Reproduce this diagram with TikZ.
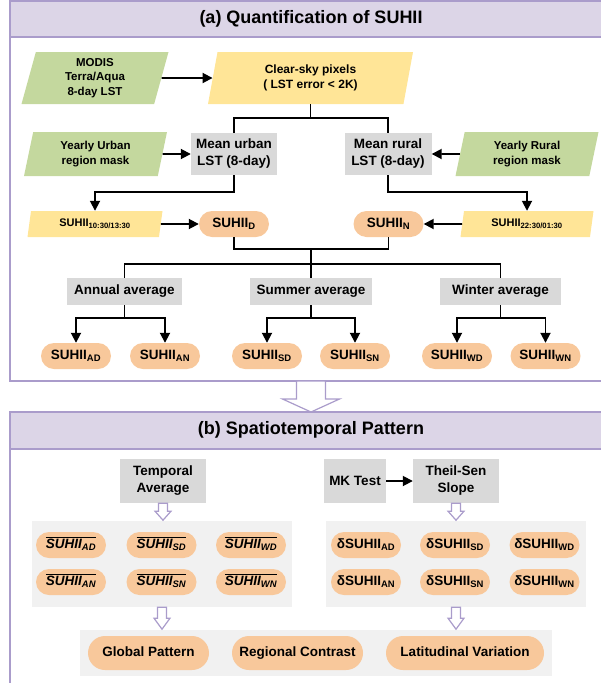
\documentclass[tikz,border=0pt]{standalone}
\usepackage{fontspec}
\setmainfont{Liberation Sans}
\usepackage{amsmath}
\usetikzlibrary{shapes.geometric,arrows.meta,calc}

\definecolor{hdrfill}{HTML}{DCD5E7}
\definecolor{hdrline}{HTML}{AA9CCB}
\definecolor{maskgreen}{HTML}{C4D89E}
\definecolor{lstyellow}{HTML}{FFE597}
\definecolor{suhiiorange}{HTML}{F8C89B}
\definecolor{stepgray}{HTML}{D9D9D9}
\definecolor{groupgray}{HTML}{F1F1F1}

\tikzset{
  base/.style={inner sep=0pt, align=center, font=\bfseries\fontsize{13.5}{17}\selectfont},
  stepbox/.style={base, rectangle, fill=stepgray},
  para/.style={base, trapezium, trapezium left angle=70, trapezium right angle=110,
    trapezium stretches body, font=\bfseries\fontsize{11.5}{14.5}\selectfont},
  inputbox/.style={para, fill=maskgreen},
  lstbox/.style={para, fill=lstyellow},
  pill/.style={base, rectangle, rounded corners=13pt, fill=suhiiorange,
    minimum width=70pt, minimum height=26pt, text height=10pt, text depth=3pt},
  bigpill/.style={pill, rounded corners=17pt, minimum height=34pt},
  groupbox/.style={rectangle, fill=groupgray, inner sep=0pt},
  panel/.style={draw=hdrline, line width=1.2pt},
  hollow/.style={draw=hdrline, fill=white, line width=1.2pt, line join=miter},
  line/.style={line width=1.8pt},
  arr/.style={line, -{Triangle[length=10pt,width=10pt]}},
}

% hollow down arrow: start, length, half shaft, half head, head length
\newcommand{\hollowdown}[5]{%
  \draw[hollow] #1 ++(-#3,0) -- ++(0,{#2-#5}) -- ++({#3-#4},0) -- ++(#4,#5)
    -- ++(#4,-#5) -- ++({#3-#4},0) -- ++(0,{#5-#2}) -- cycle;}

\begin{document}
\begin{tikzpicture}[x=1pt,y=-1pt]
    \useasboundingbox (0,0) rectangle (601,683);
    \clip (0,0) rectangle (601,683);

    % Panel (a)
    \draw[panel] (10,1) rectangle (620,381);
    \draw[panel, fill=hdrfill] (10,1) rectangle (620,37);
    \node[base, font=\bfseries\fontsize{18}{20}\selectfont] (titlea) at (311,19) {(a) Quantification of SUHII};

    % Panel (b)
    \draw[panel] (10,412) rectangle (620,700);
    \draw[panel, fill=hdrfill] (10,412) rectangle (620,449);
    \node[base, font=\bfseries\fontsize{18}{20}\selectfont] (titleb) at (311,430) {(b) Spatiotemporal Pattern};

    % Arrow between panels
    \hollowdown{(311,381)}{31}{14.5}{28.5}{13}

    % Inputs
    \node[inputbox, minimum width=147pt, minimum height=52pt] (modis) at (95,78) {MODIS\\Terra/Aqua\\8-day LST};
    \node[lstbox, minimum width=205pt, minimum height=52pt, font=\bfseries\fontsize{12}{15}\selectfont] (clear) at (310.5,78) {Clear-sky pixels\\( LST error < 2K)};
    \node[inputbox, minimum width=143pt, minimum height=44pt] (urbanmask) at (95.5,154) {Yearly Urban\\region mask};
    \node[inputbox, minimum width=143pt, minimum height=44pt] (ruralmask) at (527,154) {Yearly Rural\\region mask};

    % Mean LST
    \node[stepbox, minimum width=86pt, minimum height=42pt] (murban) at (234,154) {Mean urban\\LST (8-day)};
    \node[stepbox, minimum width=87pt, minimum height=42pt] (mrural) at (388,154) {Mean rural\\LST (8-day)};

    % Day / night SUHII
    \node[lstbox, minimum width=135pt, minimum height=26pt, font=\bfseries\fontsize{11}{13}\selectfont] (sday) at (95,224) {SUHII\textsubscript{10:30/13:30}};
    \node[lstbox, minimum width=133pt, minimum height=26pt, font=\bfseries\fontsize{11}{13}\selectfont] (snight) at (527,224) {SUHII\textsubscript{22:30/01:30}};
    \node[pill] (suhiid) at (234,224) {SUHII\textsubscript{D}};
    \node[pill] (suhiin) at (388.5,224) {SUHII\textsubscript{N}};

    % Averages
    \node[stepbox, minimum width=115pt, minimum height=27pt] (annual) at (124.5,291.5) {Annual average};
    \node[stepbox, minimum width=122pt, minimum height=27pt] (summer) at (311,291.5) {Summer average};
    \node[stepbox, minimum width=121pt, minimum height=27pt] (winter) at (500.5,291.5) {Winter average};

    \node[pill] (sad) at (76,356) {SUHII\textsubscript{AD}};
    \node[pill] (san) at (165,356) {SUHII\textsubscript{AN}};
    \node[pill] (ssd) at (267,356) {SUHII\textsubscript{SD}};
    \node[pill] (ssn) at (355,356) {SUHII\textsubscript{SN}};
    \node[pill] (swd) at (457,356) {SUHII\textsubscript{WD}};
    \node[pill] (swn) at (545.5,356) {SUHII\textsubscript{WN}};

    % Connectors (a)
    \draw[arr] (modis) -- (clear);
    \draw[line] (clear.south) -- ++(0,14) -| (murban.north);
    \draw[line] (clear.south) -- ++(0,14) -| (mrural.north);
    \draw[arr] (urbanmask) -- (murban);
    \draw[arr] (ruralmask) -- (mrural);
    \draw[arr] (murban.south) -- ++(0,17) -| (sday.north);
    \draw[arr] (mrural.south) -- ++(0,17) -| (snight.north);
    \draw[arr] (sday) -- (suhiid);
    \draw[arr] (snight) -- (suhiin);
    \draw[line] (suhiid.south) -- ++(0,12) -| (suhiin.south);
    \coordinate (jn) at (311,249);
    \draw[line] (jn) -- (summer.north);
    \draw[line] (annual.north) -- ++(0,-14) -| (winter.north);
    \draw[arr] (annual.south) -- ++(0,13) -| (sad.north);
    \draw[arr] (annual.south) -- ++(0,13) -| (san.north);
    \draw[arr] (summer.south) -- ++(0,13) -| (ssd.north);
    \draw[arr] (summer.south) -- ++(0,13) -| (ssn.north);
    \draw[arr] (winter.south) -- ++(0,13) -| (swd.north);
    \draw[arr] (winter.south) -- ++(0,13) -| (swn.north);

    % Panel (b) methods
    \node[stepbox, minimum width=86pt, minimum height=44pt] (tavg) at (163,481) {Temporal\\Average};
    \node[stepbox, minimum width=62pt, minimum height=44pt] (mktest) at (355,481) {MK Test};
    \node[stepbox, minimum width=86pt, minimum height=44pt] (theil) at (456,481) {Theil-Sen\\Slope};
    \draw[arr] (mktest) -- (theil);

    % Groups
    \node[groupbox, minimum width=260pt, minimum height=86pt] (lgroup) at (162,564) {};
    \node[groupbox, minimum width=260pt, minimum height=86pt] (rgroup) at (456,564) {};
    \node[groupbox, minimum width=472pt, minimum height=46pt] (bgroup) at (316,653) {};

    \hollowdown{(tavg.south)}{17}{4.5}{8}{9}
    \hollowdown{(theil.south)}{17}{4.5}{8}{9}
    \hollowdown{(lgroup.south)}{22}{4.5}{8}{11}
    \hollowdown{(rgroup.south)}{22}{4.5}{8}{11}

    % Mean values
    \node[pill] (mad) at (71,545) {$\overline{\textit{SUHII}_{\textit{AD}}}$};
    \node[pill] (msd) at (161.5,545) {$\overline{\textit{SUHII}_{\textit{SD}}}$};
    \node[pill] (mwd) at (251,545) {$\overline{\textit{SUHII}_{\textit{WD}}}$};
    \node[pill] (man) at (71,582) {$\overline{\textit{SUHII}_{\textit{AN}}}$};
    \node[pill] (msn) at (161.5,582) {$\overline{\textit{SUHII}_{\textit{SN}}}$};
    \node[pill] (mwn) at (251,582) {$\overline{\textit{SUHII}_{\textit{WN}}}$};

    % Trends
    \node[pill] (dad) at (366,545) {δSUHII\textsubscript{AD}};
    \node[pill] (dsd) at (455,545) {δSUHII\textsubscript{SD}};
    \node[pill] (dwd) at (544.5,545) {δSUHII\textsubscript{WD}};
    \node[pill] (dan) at (366,582) {δSUHII\textsubscript{AN}};
    \node[pill] (dsn) at (455,582) {δSUHII\textsubscript{SN}};
    \node[pill] (dwn) at (544.5,582) {δSUHII\textsubscript{WN}};

    % Outcomes
    \node[bigpill, minimum width=121pt] (global) at (148.5,653) {Global Pattern};
    \node[bigpill, minimum width=131pt] (regional) at (297.5,653) {Regional Contrast};
    \node[bigpill, minimum width=158pt] (latitude) at (465,653) {Latitudinal Variation};
\end{tikzpicture}
\end{document}
